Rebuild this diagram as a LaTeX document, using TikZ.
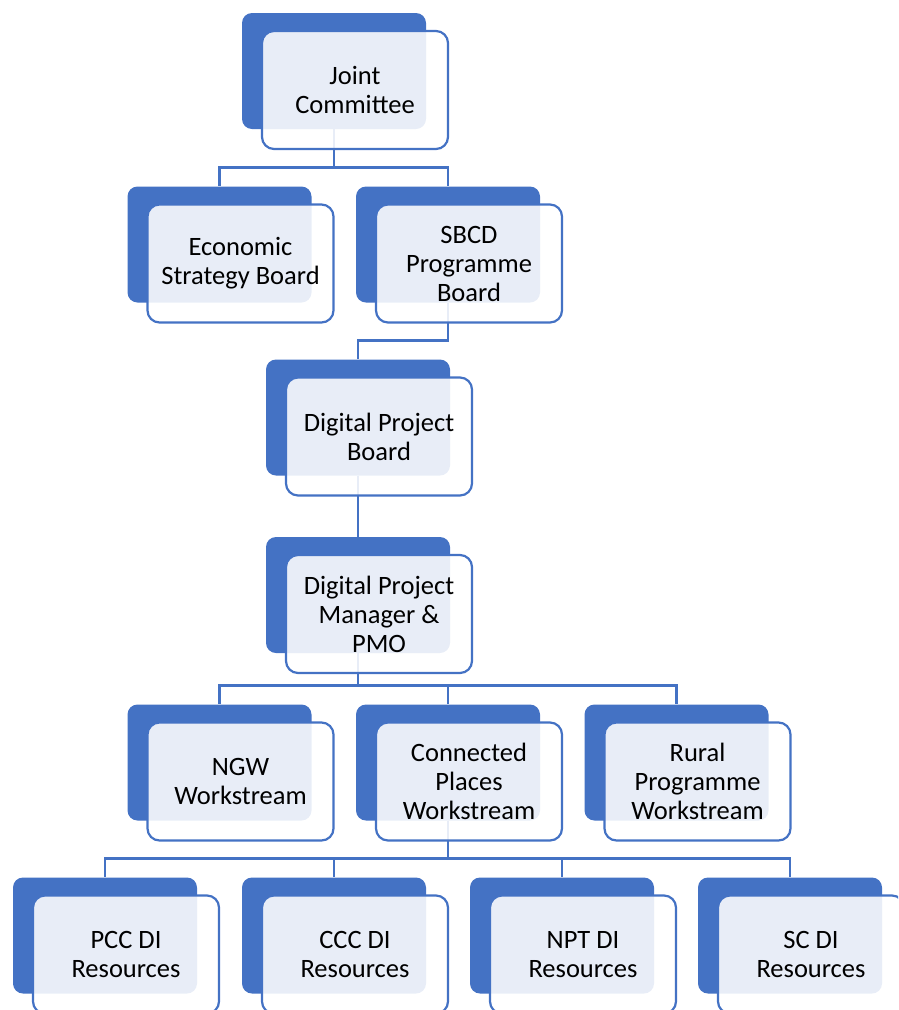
\documentclass[tikz,border=0pt]{standalone}
\usepackage{fontspec}
\setmainfont{Carlito}
\usetikzlibrary{positioning,calc}
\definecolor{chartblue}{RGB}{68,114,196}
\tikzset{back/.style={fill=chartblue,rounded corners=10pt,minimum width=184pt,minimum height=116pt,inner sep=0pt},
         front/.style={draw=chartblue,line width=2.2pt,fill=white,fill opacity=0.88,text opacity=1,rounded corners=12pt,minimum width=186pt,minimum height=118pt,align=center,inner sep=2pt,font=\fontsize{26.5}{29}\selectfont},
         conn/.style={draw=chartblue,line width=2.4pt}
}
\begin{document}
\begin{tikzpicture}[x=1pt,y=1pt,yscale=-1,xscale=1]
\useasboundingbox (0,0) rectangle (898,1010);
\clip (0,0) rectangle (898,1010);

%Back boxes
\node[back] (jc) at (334,71) {};
\node[back] (esb) at (219.5,244.5) {};
\node[back] (sbcd) at (448,244.5) {};
\node[back] (dpb) at (358,417.5) {};
\node[back] (dpm) at (358,595) {};
\node[back] (ngw) at (219.5,762.5) {};
\node[back] (cp) at (448,762.5) {};
\node[back] (rural) at (676.5,762.5) {};
\node[back] (pcc) at (105,935.5) {};
\node[back] (ccc) at (334,935.5) {};
\node[back] (npt) at (562,935.5) {};
\node[back] (sc) at (790,935.5) {};

%Connectors
\draw[conn] (jc.south) |- ($(esb.north)+(0,-19)$) -- (esb.north);
\draw[conn] (jc.south) |- ($(sbcd.north)+(0,-19)$) -- (sbcd.north);
\draw[conn] (sbcd.south) |- ($(dpb.north)+(0,-19)$) -- (dpb.north);
\draw[conn] (dpb.south) -- (dpm.north);
\draw[conn] (dpm.south) |- ($(ngw.north)+(0,-19)$) -- (ngw.north);
\draw[conn] (dpm.south) |- ($(cp.north)+(0,-19)$) -- (cp.north);
\draw[conn] (dpm.south) |- ($(rural.north)+(0,-19)$) -- (rural.north);
\draw[conn] (cp.south) |- ($(pcc.north)+(0,-19)$) -- (pcc.north);
\draw[conn] (cp.south) |- ($(ccc.north)+(0,-19)$) -- (ccc.north);
\draw[conn] (cp.south) |- ($(npt.north)+(0,-19)$) -- (npt.north);
\draw[conn] (cp.south) |- ($(sc.north)+(0,-19)$) -- (sc.north);

%Front boxes
\node[front] (jcT) at ([shift={(21,19)}]jc.center) {Joint\\Committee};
\node[front] (esbT) at ([shift={(21,19)}]esb.center) {Economic\\Strategy Board};
\node[front] (sbcdT) at ([shift={(21,19)}]sbcd.center) {SBCD\\Programme\\Board};
\node[front] (dpbT) at ([shift={(21,19)}]dpb.center) {Digital Project\\Board};
\node[front] (dpmT) at ([shift={(21,19)}]dpm.center) {Digital Project\\Manager \&\\PMO};
\node[front] (ngwT) at ([shift={(21,19)}]ngw.center) {NGW\\Workstream};
\node[front] (cpT) at ([shift={(21,19)}]cp.center) {Connected\\Places\\Workstream};
\node[front] (ruralT) at ([shift={(21,19)}]rural.center) {Rural\\Programme\\Workstream};
\node[front] (pccT) at ([shift={(21,19)}]pcc.center) {PCC DI\\Resources};
\node[front] (cccT) at ([shift={(21,19)}]ccc.center) {CCC DI\\Resources};
\node[front] (nptT) at ([shift={(21,19)}]npt.center) {NPT DI\\Resources};
\node[front] (scT) at ([shift={(21,19)}]sc.center) {SC DI\\Resources};

\end{tikzpicture}
\end{document}
